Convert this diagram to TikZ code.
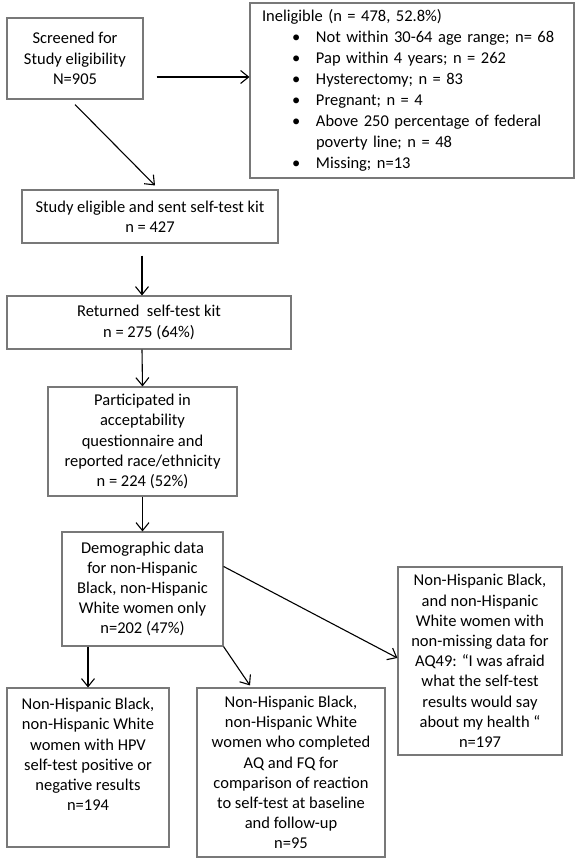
\documentclass[tikz,border=0pt]{standalone}
\usepackage{fontspec}
\setmainfont{Carlito}
\usepackage{tikz}
\usetikzlibrary{arrows.meta, positioning, calc}
\definecolor{boxgray}{RGB}{120,120,120}
\newcommand{\inbul}{\hspace*{30pt}\makebox[24pt][l]{\textbullet}}

\begin{document}
\begin{tikzpicture}[
  x=1pt, y=-1pt,
  font=\fontsize{16.5}{20.2}\selectfont,
  box/.style={rectangle, draw=boxgray, line width=1.1pt, fill=white,
    align=center, inner sep=0pt},
  arr/.style={-{Straight Barb[length=8pt,width=13pt]}, draw=black, line width=1.1pt}
]
\useasboundingbox (0,0) rectangle (576,858);
\node[box, minimum width=136pt, minimum height=81pt] (screen) at (75,58.5)
  {Screened for\\Study eligibility\\N=905};
\node[box, text width=300pt, inner xsep=12pt, minimum height=175pt, align=left,
  font=\fontsize{16.5}{21}\selectfont] (inelig) at (412,90.5)
  {Ineligible (n = 478, 52.8\%)\\
   \inbul Not within 30-64 age range; n= 68\\
   \inbul Pap within 4 years; n = 262\\
   \inbul Hysterectomy; n = 83\\
   \inbul Pregnant; n = 4\\
   \inbul Above 250 percentage of federal\\
   \hspace*{54pt}poverty line; n = 48\\
   \inbul Missing; n=13};
\node[box, minimum width=256pt, minimum height=53pt] (elig) at (150,216.5)
  {Study eligible and sent self-test kit\\n = 427};
\node[box, minimum width=284pt, minimum height=53pt] (ret) at (149,322.5)
  {Returned\ \ self-test kit\\n = 275 (64\%)};
\node[box, minimum width=189pt, minimum height=109pt] (part) at (142.5,441.5)
  {Participated in\\acceptability\\questionnaire and\\reported race/ethnicity\\n = 224 (52\%)};
\node[box, minimum width=161pt, minimum height=114pt] (demo) at (142.5,589)
  {Demographic data\\for non-Hispanic\\Black, non-Hispanic\\White women only\\n=202 (47\%)};
\node[box, minimum width=164pt, minimum height=188pt] (aq) at (480,661)
  {Non-Hispanic Black,\\and non-Hispanic\\White women with\\non-missing data for\\AQ49: “I was afraid\\what the self-test\\results would say\\about my health “\\n=197};
\node[box, minimum width=162pt, minimum height=159pt] (hpv) at (88,767.5)
  {Non-Hispanic Black,\\non-Hispanic White\\women with HPV\\self-test positive or\\negative results\\n=194\\\strut};
\node[box, minimum width=188pt, minimum height=169pt] (comp) at (291,772.5)
  {Non-Hispanic Black,\\non-Hispanic White\\women who completed\\AQ and FQ for\\comparison of reaction\\to self-test at baseline\\and follow-up\\n=95};

\draw[arr] ([xshift=13pt,yshift=-18.5pt]screen.east) coordinate (a1) -- (a1 -| inelig.west);
\draw[arr] ([yshift=-5pt]screen.south) -- ([xshift=5pt,yshift=4pt]elig.north);
\draw[arr] ([xshift=-8pt,yshift=-12pt]elig.south) -- ([xshift=-7pt]ret.north);
\draw[arr] ([xshift=-7pt]ret.south) -- (part.north);
\draw[arr] (part.south) -- (demo.north);
\draw[arr] (demo.south -| hpv.north) -- (hpv.north);
\draw[arr] (demo.south east) -- ([xshift=-41pt,yshift=2pt]comp.north);
\draw[arr] ([yshift=-35pt]demo.north east) -- ([yshift=3pt]aq.west);
\end{tikzpicture}
\end{document}
